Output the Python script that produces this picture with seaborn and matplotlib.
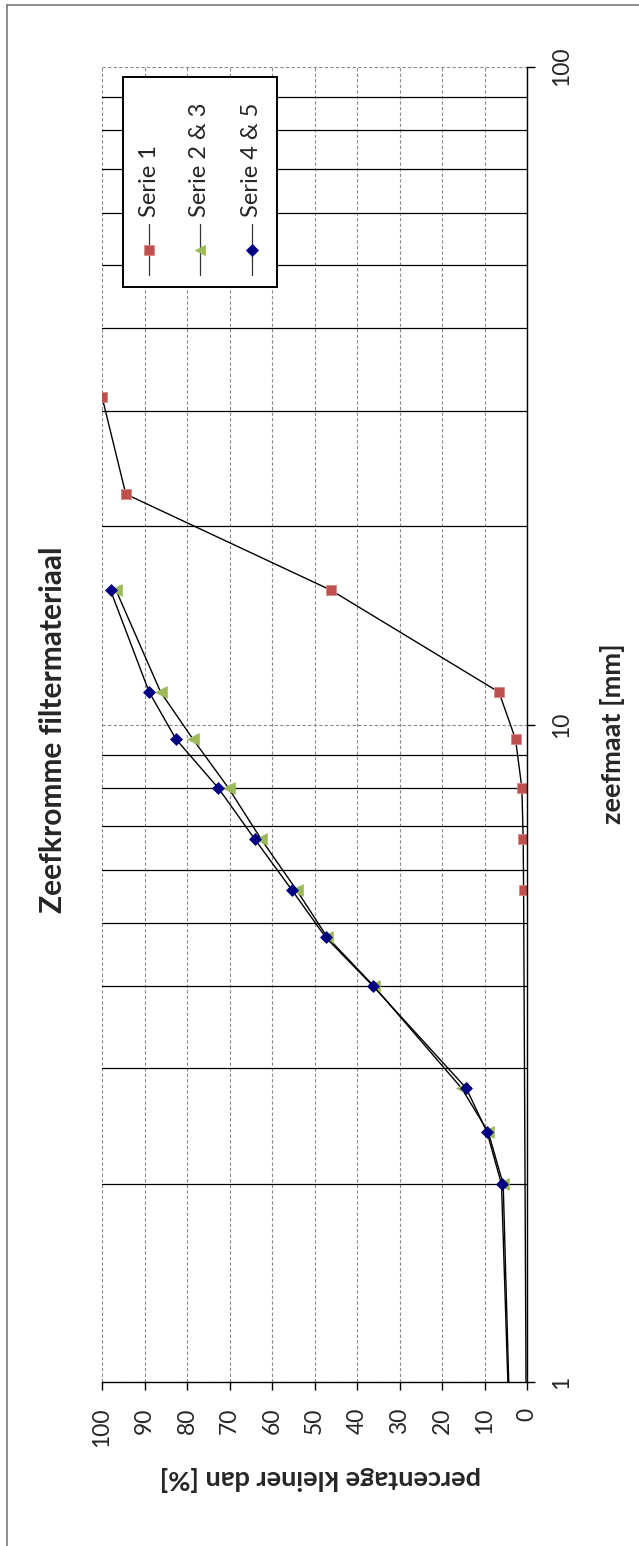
import numpy as np
import pandas as pd
import seaborn as sns
import matplotlib
matplotlib.use("Agg")
import matplotlib.pyplot as plt
from matplotlib.lines import Line2D
from matplotlib.patches import Rectangle
from matplotlib.transforms import Affine2D
from matplotlib.ticker import FixedLocator, NullFormatter

# ---------------- data ----------------
series_names = ["Serie 1", "Serie 2 & 3", "Serie 4 & 5"]
zeef_1 = [0.5, 5.6, 6.7, 8.0, 9.5, 11.2, 16.0, 22.4, 31.5]
pct_1 = [0.0, 0.8, 0.9, 1.2, 2.7, 6.6, 46.1, 94.4, 100.0]
zeef_23 = [0.5, 2.0, 2.4, 2.8, 4.0, 4.75, 5.6, 6.7, 8.0, 9.5, 11.2, 16.0]
pct_23 = [3.0, 5.6, 9.1, 15.4, 36.0, 47.0, 54.2, 62.6, 70.2, 78.6, 86.2, 96.7]
zeef_45 = [0.5, 2.0, 2.4, 2.8, 4.0, 4.75, 5.6, 6.7, 8.0, 9.5, 11.2, 16.0]
pct_45 = [3.0, 6.0, 9.4, 14.3, 36.2, 47.4, 55.3, 64.1, 72.6, 82.6, 88.9, 98.0]
pct_ticks = [0, 10, 20, 30, 40, 50, 60, 70, 80, 90, 100]
size_ticks = [1, 10, 100]
size_tick_labels = ["1", "10", "100"]
size_minor = [2, 3, 4, 5, 6, 7, 8, 9, 20, 30, 40, 50, 60, 70, 80, 90]
title = "Zeefkromme filtermateriaal"
xlabel = "zeefmaat [mm]"
ylabel = "percentage kleiner dan [%]"

colors = ["#C0504D", "#9BBB59", "#000080"]
edgecolors = ["#D98A88", "#9BBB59", "#000080"]
markers = ["s", "<", "D"]
msizes = [60, 70, 36]
leg_msizes = [52, 52, 34]

# ---------------- style ----------------
sns.set_style("white")
plt.rcParams["font.family"] = ["Lato", "DejaVu Sans"]

W, H = 639, 1546
fig = plt.figure(figsize=(W / 100, H / 100), dpi=100)
pix = Affine2D().scale(1 / W, -1 / H).translate(0, 1) + fig.transFigure

L, R, T, B = 102.0, 527.0, 66.7, 1382.3
ax = fig.add_axes([L / W, 1 - B / H, (R - L) / W, (B - T) / H])
ax.set_yscale("log")

data = [(zeef_1, pct_1), (zeef_23, pct_23), (zeef_45, pct_45)]
for i, (z, p) in enumerate(data):
    df = pd.DataFrame({"zeef": z, "pct": p})
    sns.lineplot(data=df, x="pct", y="zeef", orient="y", sort=True,
                 estimator=None, color="black", lw=1.0, ax=ax, zorder=2 + i)
    sns.scatterplot(data=df, x="pct", y="zeef", marker=markers[i], s=msizes[i],
                    color=colors[i], edgecolor=edgecolors[i], linewidth=0.6,
                    ax=ax, zorder=2.5 + i)

ax.set_xlim(100, 0)
ax.set_ylim(1, 100)
ax.set_xlabel("")
ax.set_ylabel("")

# ticks
ax.set_xticks(pct_ticks)
ax.set_xticklabels([str(v) for v in pct_ticks])
ax.yaxis.tick_right()
ax.set_yticks(size_ticks)
ax.set_yticklabels(size_tick_labels)
ax.yaxis.set_minor_locator(FixedLocator(size_minor))
ax.yaxis.set_minor_formatter(NullFormatter())
ax.tick_params(axis="x", which="major", direction="out", length=5.5, width=1,
               color="black", labelsize=16.5, labelrotation=90, pad=13, bottom=True)
ax.tick_params(axis="y", which="major", direction="out", length=6, width=1,
               color="black", labelsize=16.5, labelrotation=90, pad=11, right=True, left=False)
ax.tick_params(axis="y", which="minor", length=0)
for lab in ax.get_xticklabels():
    lab.set_va("top")
    lab.set_ha("center")
for lab in ax.get_yticklabels():
    lab.set_va("center")
    lab.set_ha("left")

# grid
ax.set_axisbelow(True)
ax.grid(which="major", axis="x", color="#8a8a8a", lw=0.8, ls=(0, (3, 2)))
ax.grid(which="major", axis="y", color="#8a8a8a", lw=0.8, ls=(0, (3, 2)))
ax.grid(which="minor", axis="y", color="black", lw=0.9, ls="-")

for s in ["left", "top"]:
    ax.spines[s].set_visible(False)
for s in ["right", "bottom"]:
    ax.spines[s].set_visible(True)
    ax.spines[s].set_color("black")
    ax.spines[s].set_linewidth(1.0)

# titles
fig.text(53.5, 730, title, transform=pix, rotation=90, ha="center", va="center",
         fontsize=21.5, fontweight="bold")
fig.text(612.5, 734, xlabel, transform=pix, rotation=90, ha="center", va="center",
         fontsize=19.5, fontweight="bold")
fig.text(320.5, 1479, ylabel, transform=pix, rotation=180, ha="center", va="center",
         fontsize=19.5, fontweight="bold")

# legend (drawn rotated like the rest of the chart)
fig.add_artist(Rectangle((122.7, 77.3), 154.6, 210, transform=pix, facecolor="white",
                         edgecolor="black", lw=1.4, zorder=10))
leg_x = [149.3, 200.0, 251.7]
for i, name in enumerate(series_names):
    fig.add_artist(Line2D([leg_x[i], leg_x[i]], [224, 275], transform=pix, color="#333333",
                          lw=0.9, zorder=11))
    fig.add_artist(Line2D([leg_x[i]], [250], transform=pix, marker=markers[i],
                          markersize=np.sqrt(leg_msizes[i]), color=colors[i],
                          markeredgecolor=edgecolors[i], markeredgewidth=0.6,
                          lw=0, zorder=12))
    fig.text(leg_x[i], 217, name, transform=pix, rotation=90, ha="center", va="bottom",
             fontsize=17, zorder=12)

# outer chart border
fig.add_artist(Line2D([7.3, 7.3], [4.7, H + 5], transform=pix, color="#6e6e6e", lw=1.1))
fig.add_artist(Line2D([7.3, W + 5], [4.7, 4.7], transform=pix, color="#6e6e6e", lw=1.1))

fig.savefig("out.png", dpi=100)
